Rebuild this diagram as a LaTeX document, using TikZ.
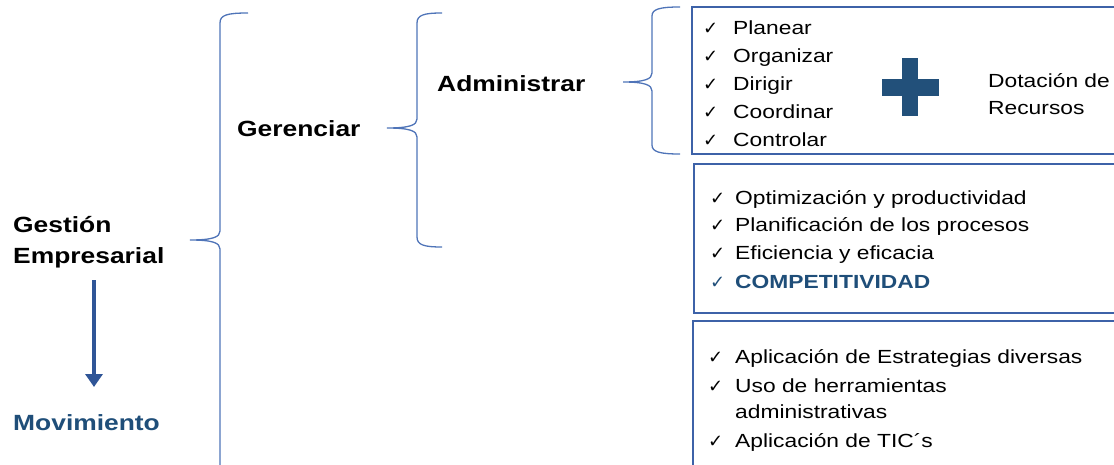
\documentclass[tikz,border=0pt]{standalone}
\usepackage{fontspec}
\setmainfont{Liberation Sans}[FakeStretch=1.2]
\newfontfamily\chkfont{DejaVu Sans}
\usetikzlibrary{arrows.meta}
\definecolor{bracecol}{HTML}{4F74B8}
\definecolor{boxcol}{HTML}{3D62A8}
\definecolor{navy}{HTML}{1F4E79}
\definecolor{arrowcol}{HTML}{2F5597}
\definecolor{pluscol}{HTML}{22507A}
% check mark followed by a fixed gap before the item text
\newcommand\ck[1]{\makebox[#1][l]{\chkfont\fontsize{18}{18}\selectfont ✓}}
\begin{document}
\begin{tikzpicture}[x=1pt,y=-1pt,
  head/.style={font=\fontsize{22}{26}\selectfont\bfseries, inner sep=0pt, anchor=base west},
  item/.style={font=\fontsize{19}{23}\selectfont, inner sep=0pt, anchor=base west},
  brace/.style={draw=bracecol, line width=1.3pt},
  panel/.style={draw=boxcol, line width=1.8pt},
  arrow/.style={draw=arrowcol, line width=4.5pt, -{Triangle[width=17pt,length=13pt]}}]
\useasboundingbox (0,0) rectangle (1114,465);
\clip (0,0) rectangle (1114,465);

% headings
\node[head] (gest) at (13,233) {Gestión};
\node[head] (emp) at (13,263) {Empresarial};
\node[head, text=navy] (mov) at (13,430) {Movimiento};
\node[head] (ger) at (237,137) {Gerenciar};
\node[head] (adm) at (437,92) {Administrar};

% arrow from Gestión Empresarial down to Movimiento
\coordinate (arS) at (94,280);
\coordinate (arE) at (94,387);
\draw[arrow] (arS) -- (arE);

% braces
\draw[brace] (248,13) .. controls (227,13) and (220,15) .. (220,23) -- (220,231)
  .. controls (220,237) and (213,240) .. (190,240)
  .. controls (213,240) and (220,243) .. (220,249) -- (220,480);
\draw[brace] (442,13) .. controls (424,13) and (417,15) .. (417,23) -- (417,119)
  .. controls (417,125) and (410,128) .. (387,128)
  .. controls (410,128) and (417,131) .. (417,137) -- (417,237)
  .. controls (417,245) and (424,247) .. (442,247);
\draw[brace] (680,7) .. controls (660,7) and (652,9) .. (652,16) -- (652,73)
  .. controls (652,79) and (645,82) .. (623,82)
  .. controls (645,82) and (652,85) .. (652,91) -- (652,145)
  .. controls (652,152) and (660,154) .. (680,154);

% panels
\draw[panel] (692,7) rectangle (1130,154);
\draw[panel] (694,164) rectangle (1130,313);
\draw[panel] (693,321) rectangle (1130,480);

% first panel: management functions
\foreach \t [count=\i] in {Planear,Organizar,Dirigir,Coordinar,Controlar}
  \node[item] (fn\i) at (703,7+28*\i) {\ck{30pt}\t};

% plus sign
\fill[pluscol] (882,79) rectangle (939,96);
\fill[pluscol] (902,58) rectangle (918,116);
\node[item] (dot1) at (988,88) {Dotación de};
\node[item] (dot2) at (988,115) {Recursos};

% second panel: results
\node[item] (r1) at (710,205) {\ck{25pt}Optimización y productividad};
\node[item] (r2) at (710,232) {\ck{25pt}Planificación de los procesos};
\node[item] (r3) at (710,260) {\ck{25pt}Eficiencia y eficacia};
\node[item, text=navy] (r4) at (710,288) {\ck{25pt}\bfseries COMPETITIVIDAD};

% third panel: means
\node[item] (m1) at (708,363) {\ck{27pt}Aplicación de Estrategias diversas};
\node[item] (m2) at (708,392) {\ck{27pt}Uso de herramientas};
\node[item] (m2b) at (735,418) {administrativas};
\node[item] (m3) at (708,447) {\ck{27pt}Aplicación de TIC´s};
\end{tikzpicture}
\end{document}
